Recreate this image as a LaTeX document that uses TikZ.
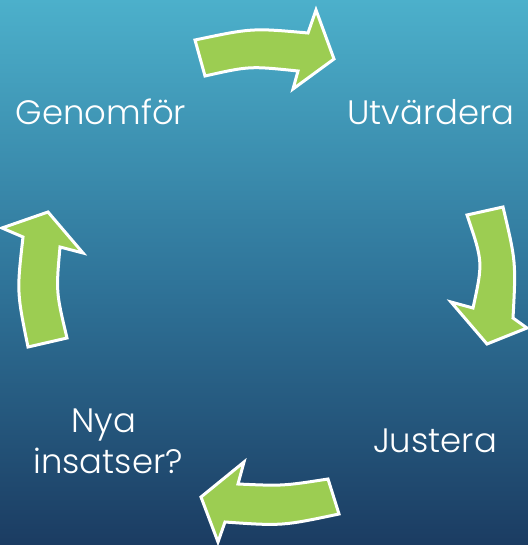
\documentclass[tikz,border=0pt]{standalone}
\usepackage{fontspec}
\setmainfont{Poppins}[UprightFont=* Light]
\definecolor{bgtop}{RGB}{76,176,203}
\definecolor{bgmid}{RGB}{48,118,155}
\definecolor{bgbot}{RGB}{27,60,98}
\definecolor{arrowgreen}{RGB}{156,205,82}
\tikzset{
  cyclearrow/.style={fill=arrowgreen, draw=white, line width=3bp, line join=miter},
  label/.style={text=white, font=\fontsize{34}{41}\selectfont, anchor=base, inner sep=0pt, align=center}
}
\begin{document}
\begin{tikzpicture}[x=1bp,y=-1bp]
\useasboundingbox (0,0) rectangle (528,545);
\shade[top color=bgtop, bottom color=bgbot, middle color=bgmid] (0,0) rectangle (528,545);
% top arrow
\draw[cyclearrow] (195,40) .. controls (252,28) .. (308,33) -- (316,10) -- (334,59) -- (293,89) -- (298,71) .. controls (249.5,66) .. (205,76) -- cycle;
% right arrow
\draw[cyclearrow] (467,215) .. controls (483,262) .. (473,308) -- (451,302) -- (487,344) -- (527,328) -- (513,318) .. controls (516,262) .. (503,207) -- cycle;
% bottom arrow
\draw[cyclearrow] (328,479) .. controls (283,486) .. (238,484) -- (244,462) -- (201,497) -- (218,542) -- (225,522) .. controls (282,526) .. (339,514) -- cycle;
% left arrow
\draw[cyclearrow] (28,347) .. controls (16.8,292) .. (23,237) -- (2,228) -- (48,212) -- (83,253) -- (60,247) .. controls (56,292) .. (67,338) -- cycle;
\node[label] (genomfor) at (101,125) {Genomför};
\node[label] (utvardera) at (431,125) {Utvärdera};
\node[label] (justera) at (435,452) {Justera};
\node[label] (nya) at (104,432) {Nya};
\node[label] (insatser) at (108,473) {insatser?};
\end{tikzpicture}
\end{document}
